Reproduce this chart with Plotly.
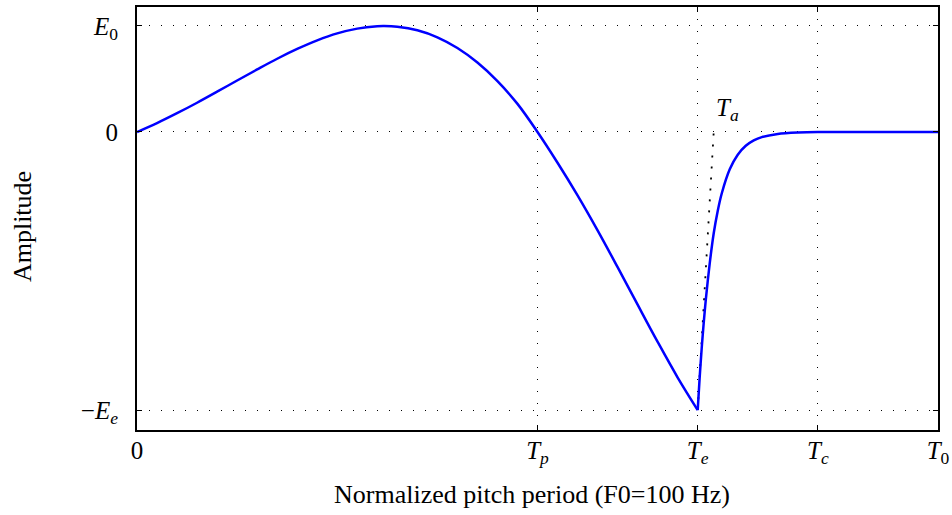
import plotly.graph_objects as go

# Open phase (time in ms, amplitude normalised to E0 = 1)
open_t = [0.0, 0.25, 0.5, 0.75, 1.0, 1.25, 1.5, 1.75, 2.0, 2.25, 2.5, 2.75, 3.0, 3.085,
          3.25, 3.5, 3.75, 4.0, 4.25, 4.5, 4.75, 5.0, 5.25, 5.5, 5.75, 6.0, 6.25, 6.5,
          6.75, 7.0]
open_a = [0.0, 0.084, 0.177, 0.276, 0.38, 0.486, 0.59, 0.691, 0.783, 0.864, 0.93, 0.975,
          0.998, 1.0, 0.993, 0.959, 0.893, 0.792, 0.655, 0.48, 0.265, 0.0, -0.29, -0.598,
          -0.928, -1.275, -1.629, -1.98, -2.316, -2.623]

# Return phase
ret_t = [7.0, 7.025, 7.05, 7.075, 7.1, 7.15, 7.2, 7.25, 7.3, 7.4, 7.5, 7.6, 7.7, 7.8,
         8.0, 8.25, 8.5, 9.0, 9.5, 10.0]
ret_a = [-2.623, -2.31, -2.04, -1.8, -1.59, -1.24, -0.955, -0.745, -0.58, -0.352, -0.214,
         -0.13, -0.079, -0.048, -0.018, -0.005, 0.0, 0.0, 0.0, 0.0]

# Tangent at Te reaching zero at Te + Ta
tan_t = [7.0, 7.2]
tan_a = [-2.623, 0.0]

x_ticks = [0.0, 5.0, 7.0, 8.5, 10.0]
x_labels = ["0", "<i>T<sub>p</sub></i>", "<i>T<sub>e</sub></i>", "<i>T<sub>c</sub></i>", "<i>T</i><sub>0</sub>"]
y_ticks = [-2.623, 0.0, 1.0]
y_labels = ["\u2212<i>E<sub>e</sub></i>", "0", "<i>E</i><sub>0</sub>"]

ta_label = "<i>T<sub>a</sub></i>"
ta_pos = (7.366, 0.208)

x_title = "Normalized pitch period (F0=100 Hz)"
y_title = "Amplitude"

FONT = "Liberation Serif"

fig = go.Figure()
fig.add_trace(go.Scatter(x=tan_t, y=tan_a, mode="lines",
                         line=dict(color="black", width=1.8, dash="2px,9px"),
                         hoverinfo="skip", showlegend=False))
fig.add_trace(go.Scatter(x=open_t, y=open_a, mode="lines",
                         line=dict(color="#0000ff", width=2.5, shape="spline", smoothing=1.0),
                         showlegend=False))
fig.add_trace(go.Scatter(x=ret_t, y=ret_a, mode="lines",
                         line=dict(color="#0000ff", width=2.5, shape="spline", smoothing=0.8),
                         showlegend=False))

fig.add_annotation(x=ta_pos[0], y=ta_pos[1], text=ta_label, showarrow=False,
                   font=dict(family=FONT, size=25, color="black"))
fig.add_annotation(x=0.493, y=-0.153, xref="paper", yref="paper", text=x_title,
                   showarrow=False, xanchor="center", yanchor="middle",
                   font=dict(family=FONT, size=26, color="black"))
fig.add_annotation(x=-0.1436, y=0.482, xref="paper", yref="paper", text=y_title,
                   showarrow=False, xanchor="center", yanchor="middle", textangle=-90,
                   font=dict(family=FONT, size=26, color="black"))

axis_common = dict(showline=True, linecolor="black", linewidth=2, mirror="ticks",
                   ticks="inside", ticklen=5, tickwidth=1.2, tickcolor="black",
                   showgrid=True, gridcolor="black", gridwidth=1, griddash="1px,11px",
                   zeroline=False, automargin=False,
                   tickfont=dict(family=FONT, size=25, color="black"))

fig.update_xaxes(range=[0, 10], tickmode="array", tickvals=x_ticks, ticktext=x_labels,
                 ticklabelstandoff=-3, **axis_common)
fig.update_yaxes(range=[-2.811, 1.179], tickmode="array", tickvals=y_ticks, ticktext=y_labels,
                 ticklabelstandoff=12, **axis_common)

fig.update_layout(width=952, height=515, margin=dict(l=137, r=14, t=7, b=85),
                  paper_bgcolor="white", plot_bgcolor="white",
                  font=dict(family=FONT, color="black"))

fig.write_html("out.html")
